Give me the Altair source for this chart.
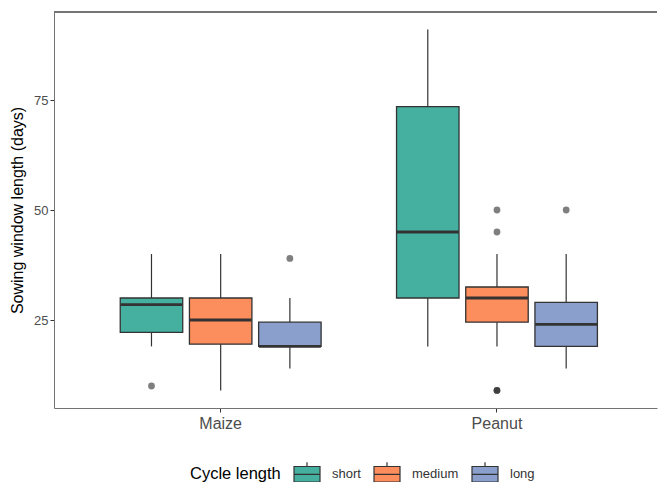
import altair as alt
import pandas as pd

crops = ["Maize", "Maize", "Maize", "Peanut", "Peanut", "Peanut"]
cycles = ["short", "medium", "long", "short", "medium", "long"]
lower = [19, 9, 14, 19, 19, 14]
q1 = [22.2, 19.5, 19, 30, 24.5, 19]
median = [28.5, 25, 19, 45, 30, 24]
q3 = [30, 30, 24.5, 73.5, 32.5, 29]
upper = [40, 40, 30, 91, 40, 40]

out_crop = ["Maize", "Maize", "Peanut", "Peanut", "Peanut", "Peanut", "Peanut"]
out_cycle = ["short", "long", "medium", "medium", "medium", "medium", "long"]
out_value = [10, 39, 50, 45, 9, 9, 50]

cycle_order = ["short", "medium", "long"]
colors = ["#45B09F", "#FC8D5C", "#8A9FCB"]

stats = pd.DataFrame({"crop": crops, "cycle": cycles, "lower": lower, "q1": q1,
                      "median": median, "q3": q3, "upper": upper})
outs = pd.DataFrame({"crop": out_crop, "cycle": out_cycle, "value": out_value})

FONT = "Liberation Sans"

x_enc = alt.X("crop:N", title=None,
              scale=alt.Scale(paddingInner=0, paddingOuter=0.0912, align=0.566),
              axis=alt.Axis(labelAngle=0, labelFontSize=16, labelColor="#4d4d4d",
                            labelFont=FONT, tickColor="#333333", tickSize=4,
                            domainColor="#737373", labelPadding=3))
xo_enc = alt.XOffset("cycle:N", sort=cycle_order,
                     scale=alt.Scale(paddingInner=0.097, paddingOuter=0.545))
y_scale = alt.Scale(domain=[5, 95], nice=False, zero=False)
y_axis = alt.Axis(values=[25, 50, 75], grid=False, labelFontSize=13, labelColor="#4d4d4d",
                  labelFont=FONT, tickColor="#333333", tickSize=4, domainColor="#737373",
                  title="Sowing window length (days)", titleFontSize=16, titleFont=FONT,
                  titleFontWeight="normal", titleColor="#000000", titlePadding=8,
                  labelPadding=2)

base = alt.Chart(stats)

whisk = base.mark_rule(color="#333333", strokeWidth=1.2).encode(
    x=x_enc, xOffset=xo_enc,
    y=alt.Y("lower:Q", scale=y_scale, axis=y_axis), y2="upper:Q")

box_path = "M-1,-0.6H1V0.6H-1Z M-1,0H1 M0,-0.6V-0.92 M0,0.6V0.92"

boxes = base.mark_bar(stroke="#333333", strokeWidth=1.3, opacity=1).encode(
    x=x_enc, xOffset=xo_enc,
    y=alt.Y("q1:Q", scale=y_scale, axis=y_axis), y2="q3:Q",
    color=alt.Color("cycle:N", sort=cycle_order,
                    scale=alt.Scale(domain=cycle_order, range=colors),
                    legend=alt.Legend(title="Cycle length", orient="none",
                                      legendX=136, legendY=448,
                                      direction="horizontal", titleOrient="left",
                                      titleFontSize=16.5, titleFont=FONT,
                                      titleFontWeight="normal", titleColor="#000000",
                                      titlePadding=12, titleBaseline="middle",
                                      labelFontSize=13, labelFont=FONT,
                                      labelColor="#333333", labelOffset=11,
                                      columnPadding=10, symbolType=box_path,
                                      symbolSize=676, symbolStrokeColor="#333333",
                                      symbolStrokeWidth=1.2, symbolOpacity=1)))

med = base.mark_tick(color="#333333", thickness=2.8, size=62, opacity=1).encode(
    x=x_enc, xOffset=xo_enc,
    y=alt.Y("median:Q", scale=y_scale, axis=y_axis))

pts = alt.Chart(outs).mark_circle(color="#000000", opacity=0.5, size=46).encode(
    x=x_enc, xOffset=alt.XOffset("cycle:N", sort=cycle_order,
                                 scale=alt.Scale(paddingInner=0.097, paddingOuter=0.545)),
    y=alt.Y("value:Q", scale=y_scale, axis=y_axis))

top = alt.Chart(stats).mark_rule(color="#737373", strokeWidth=1).encode(
    x=alt.value(0), x2=alt.value(603), y=alt.value(0))

chart = alt.layer(whisk, boxes, med, pts, top).properties(
    width=603, height=396,
    autosize=alt.AutoSizeParams(type="none"),
    padding={"left": 54, "top": 12, "right": 1, "bottom": 74},
    background="white"
).configure_view(stroke=None)

chart.save("out.html", embed_options={"renderer": "svg", "actions": False})
